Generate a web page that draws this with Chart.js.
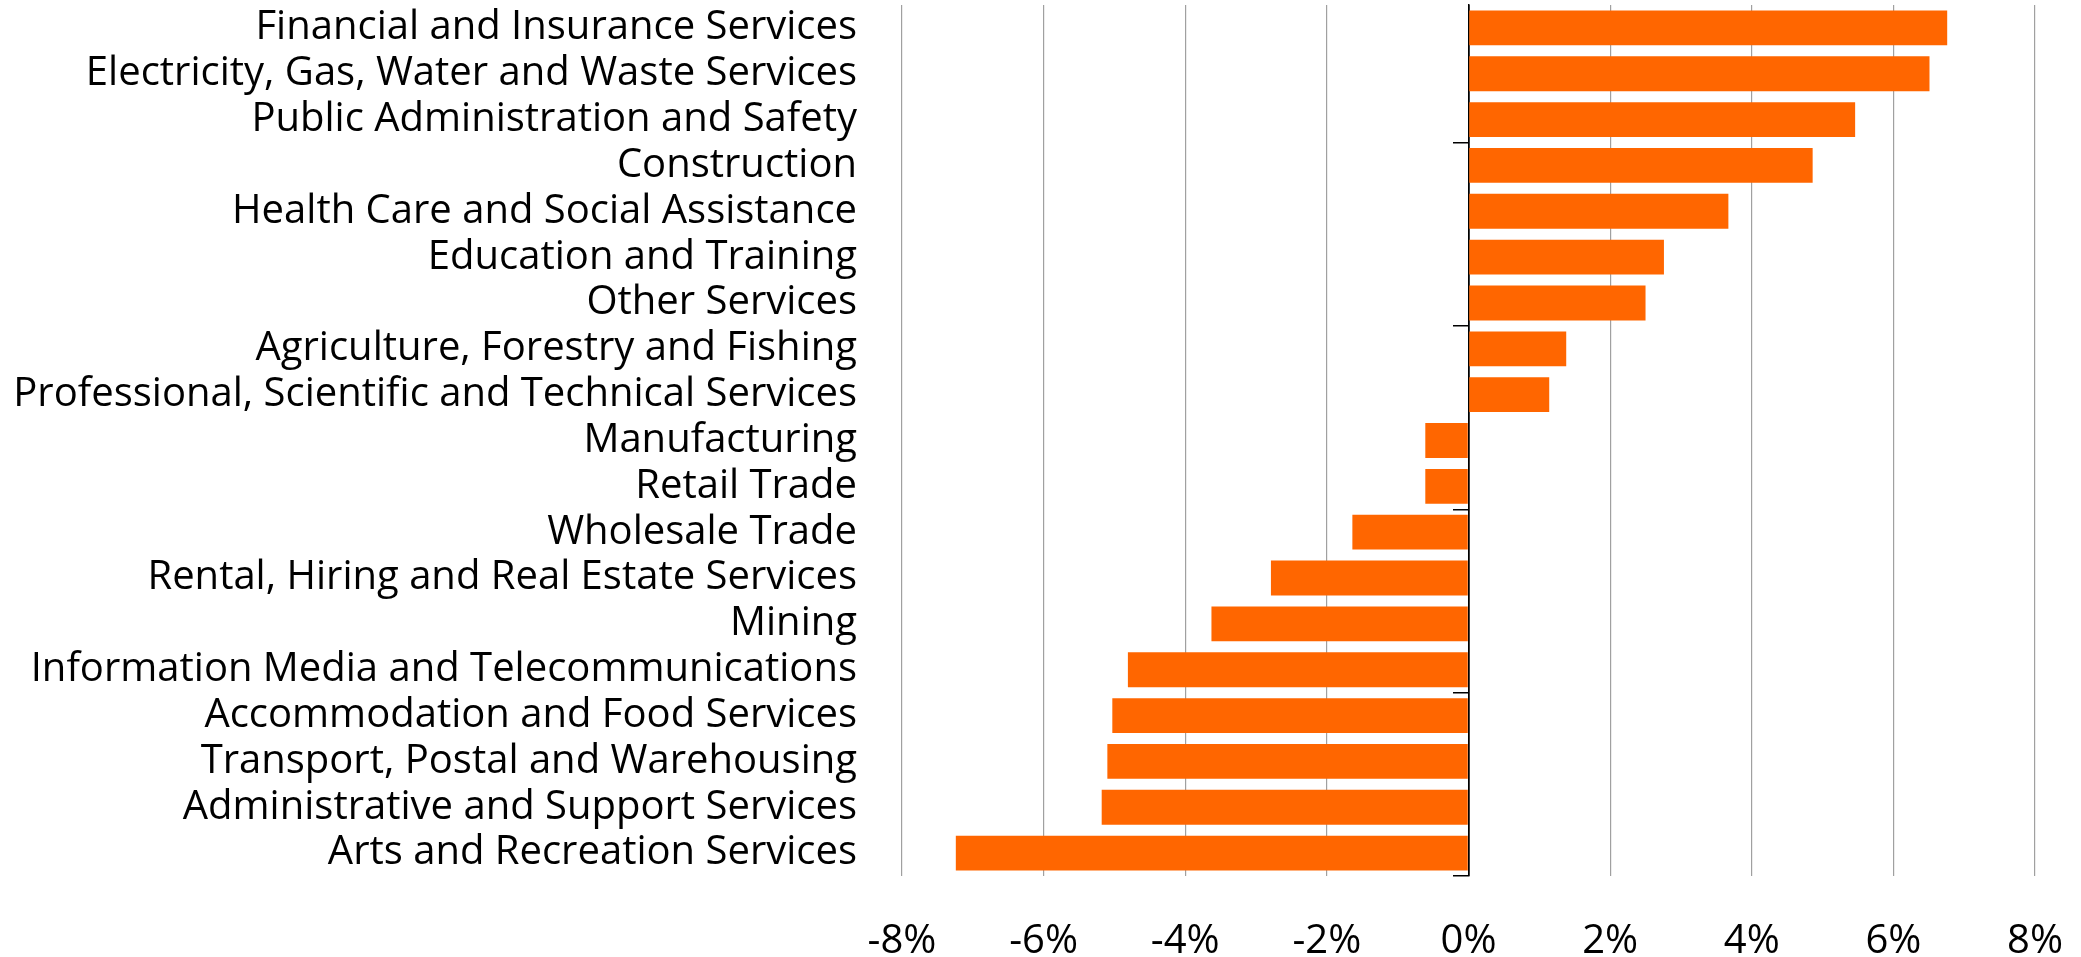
<!DOCTYPE html>
<html>
<head>
<meta charset="utf-8">
<script src="https://cdn.jsdelivr.net/npm/chart.js@4/dist/chart.umd.min.js"></script>
<style>
  html, body { margin: 0; padding: 0; background: #ffffff; }
  #wrap { width: 2081px; height: 957px; position: relative; }
</style>
</head>
<body>
<div id="wrap"><canvas id="c"></canvas></div>
<script>
const categories = [
  "Financial and Insurance Services",
  "Electricity, Gas, Water and Waste Services",
  "Public Administration and Safety",
  "Construction",
  "Health Care and Social Assistance",
  "Education and Training",
  "Other Services",
  "Agriculture, Forestry and Fishing",
  "Professional, Scientific and Technical Services",
  "Manufacturing",
  "Retail Trade",
  "Wholesale Trade",
  "Rental, Hiring and Real Estate Services",
  "Mining",
  "Information Media and Telecommunications",
  "Accommodation and Food Services",
  "Transport, Postal and Warehousing",
  "Administrative and Support Services",
  "Arts and Recreation Services"
];
const changePct = [6.76, 6.51, 5.46, 4.86, 3.67, 2.76, 2.50, 1.38, 1.14, -0.61, -0.61, -1.64, -2.79, -3.63, -4.81, -5.03, -5.10, -5.18, -7.24];
const xTickMin = -8;
const xTickMax = 8;
const xTickStep = 2;
const zeroAxisTickBoundaries = [3, 7, 11, 15];

const FONT = "'Open Sans', 'Noto Sans', sans-serif";

new Chart(document.getElementById('c'), {
  type: 'bar',
  data: {
    labels: categories,
    datasets: [{
      data: changePct,
      backgroundColor: '#FF6600',
      borderWidth: 0,
      barPercentage: 0.76,
      categoryPercentage: 1.0,
      yAxisID: 'y'
    }]
  },
  options: {
    indexAxis: 'y',
    responsive: true,
    maintainAspectRatio: false,
    animation: false,
    layout: { padding: { top: 5, right: 46, bottom: 0, left: 0 } },
    plugins: { legend: { display: false }, tooltip: { enabled: false } },
    scales: {
      x: {
        type: 'linear',
        min: xTickMin,
        max: xTickMax,
        ticks: {
          stepSize: xTickStep,
          color: '#000',
          padding: 42,
          font: { family: FONT, size: 40 },
          callback: (v) => v + '%'
        },
        grid: {
          drawTicks: false,
          lineWidth: (ctx) => (ctx.tick && ctx.tick.value === 0) ? 1.5 : 1.2,
          color: (ctx) => (ctx.tick && ctx.tick.value === 0) ? '#000000' : '#a0a0a0'
        },
        border: { display: false },
        afterFit: (s) => { s.height = 81; s.paddingLeft = 0; s.paddingRight = 0; }
      },
      y: {
        type: 'category',
        position: 'left',
        offset: true,
        ticks: {
          color: '#000',
          padding: 45,
          autoSkip: false,
          font: { family: FONT, size: 40 }
        },
        grid: { display: false, drawTicks: false },
        border: { display: false },
        afterFit: (s) => { s.width = 902; s.paddingTop = 0; s.paddingBottom = 0; }
      },
      yZero: {
        type: 'category',
        axis: 'y',
        labels: categories,
        position: { x: 0 },
        offset: true,
        ticks: { display: false },
        grid: {
          drawOnChartArea: false,
          drawTicks: true,
          tickLength: 15,
          lineWidth: 1.5,
          color: (ctx) => (ctx.type !== 'tick' || zeroAxisTickBoundaries.includes(ctx.index)) ? '#000000' : 'rgba(0,0,0,0)'
        },
        border: { display: true, color: '#000000', width: 1.5 },
        afterFit: (s) => { s.paddingTop = 0; s.paddingBottom = 0; }
      }
    }
  }
});
</script>
</body>
</html>
